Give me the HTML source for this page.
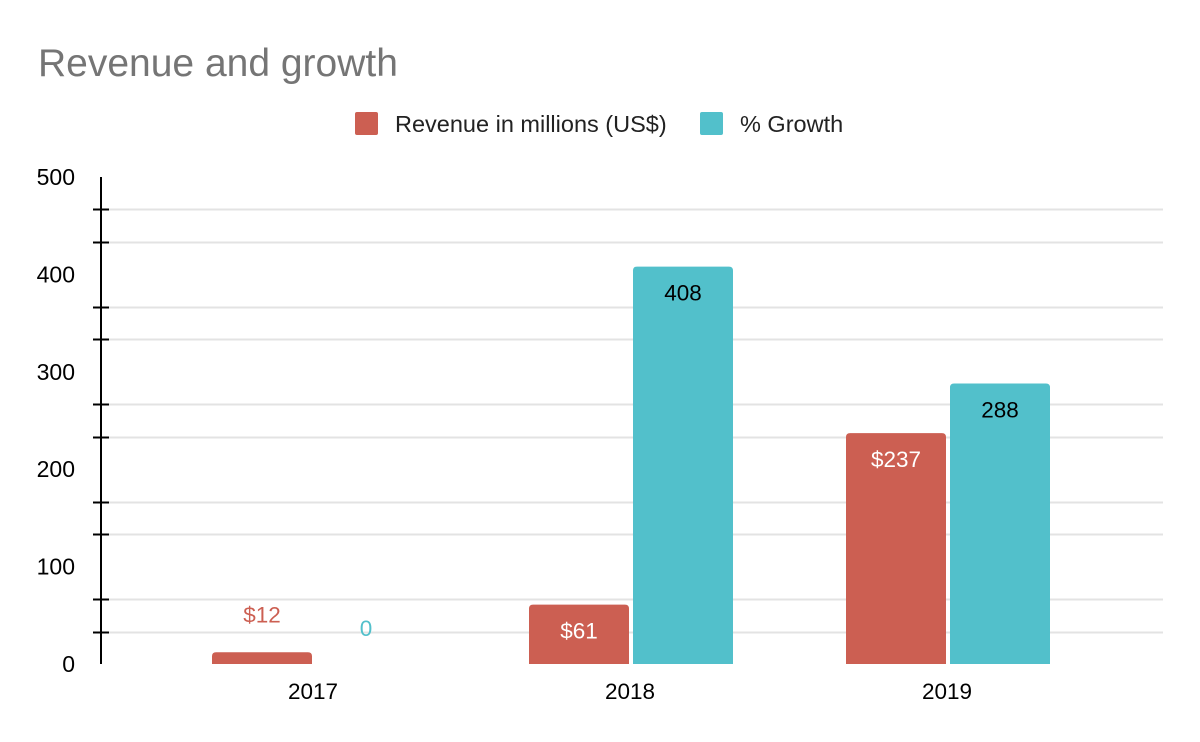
<!DOCTYPE html>
<html><head><meta charset="utf-8"><style>
html,body{margin:0;padding:0;background:#fff;}
svg{display:block;font-family:"Liberation Sans",Arial,sans-serif;}
</style></head><body>
<svg id="chart" width="1200" height="742" viewBox="0 0 1200 742">
<text x="38" y="76" font-size="39" fill="#757575">Revenue and growth</text>
<g>
<rect x="355" y="112" width="23" height="23" rx="2" fill="#cc5f52"/>
<text x="395" y="132" font-size="23.5" fill="#222">Revenue in millions (US$)</text>
<rect x="700" y="112" width="23" height="23" rx="2" fill="#52c0cb"/>
<text x="740" y="132" font-size="23.5" fill="#222">% Growth</text>
</g>
<g id="grid"></g>
<g id="bars"></g>
<g id="axes"></g>
</svg>
<script>
const categories = ["2017","2018","2019"];
const revenue = [12, 61, 237];
const growth = [0, 408, 288];
const revenueLabels = ["$12","$61","$237"];
const growthLabels = ["0","408","288"];
const yTicks = [0,100,200,300,400,500];

const NS="http://www.w3.org/2000/svg";
const X0=101, X1=1163, Y0=664, Ymax=500, PX_PER=0.974;
function y(v){return Y0 - v*PX_PER;}
const catW=317, firstC=313;
function xc(i){return firstC + i*catW;}
function mk(tag,attrs,parent){const e=document.createElementNS(NS,tag);for(const k in attrs)e.setAttribute(k,attrs[k]);parent.appendChild(e);return e;}
const grid=document.getElementById('grid'), bars=document.getElementById('bars'), axes=document.getElementById('axes');

for(let i=0;i<yTicks.length-1;i++){
  for(const f of [1/3,2/3]){
    const v=yTicks[i]+(yTicks[i+1]-yTicks[i])*f;
    const yy=Math.round(y(v))+0.5;
    const l=mk('line',{x1:X0,x2:X1,y1:yy,y2:yy,stroke:'#e3e3e3','stroke-width':2},grid);
    
    
    const t=mk('line',{x1:X0-8,x2:X0+8,y1:yy,y2:yy,stroke:'#000','stroke-width':2},axes);
    
    
  }
}
yTicks.forEach(v=>{
  const t=mk('text',{x:75,y:y(v)+8,'font-size':23,'text-anchor':'end',fill:'#000'},axes);
  t.textContent=v;
  
  
});
const ax=mk('line',{x1:X0,x2:X0,y1:y(Ymax),y2:Y0,stroke:'#000','stroke-width':2},axes);



function barPath(x,top,w,h,r){r=Math.min(r,h);return `M${x},${top+h}V${top+r}Q${x},${top} ${x+r},${top}H${x+w-r}Q${x+w},${top} ${x+w},${top+r}V${top+h}Z`;}

categories.forEach((c,i)=>{
  const cx=xc(i);
  const rt=y(revenue[i]), rh=Y0-rt;
  if(rh>0){
    const b=mk('path',{d:barPath(cx-101,rt,100,rh,4),fill:'#cc5f52'},bars);
    
    
  }
  const inside=rh>45;
  const rl=mk('text',{x:cx-51,y:inside?rt+34:rt-30,'font-size':22.5,'text-anchor':'middle',fill:inside?'#fff':'#cc5f52'},bars);
  rl.textContent=revenueLabels[i];
  
  

  const gt=y(growth[i]), gh=Y0-gt;
  if(gh>0){
    const b=mk('path',{d:barPath(cx+3,gt,100,gh,4),fill:'#52c0cb'},bars);
    
    
  }
  const gin=gh>45;
  const gl=mk('text',{x:cx+53,y:gin?gt+34:gt-28,'font-size':22.5,'text-anchor':'middle',fill:gin?'#000':'#52c0cb'},bars);
  gl.textContent=growthLabels[i];
  
  

  const xl=mk('text',{x:cx,y:699,'font-size':22.5,'text-anchor':'middle',fill:'#000'},axes);
  xl.textContent=c;
  
  
});
</script>
</body></html>
